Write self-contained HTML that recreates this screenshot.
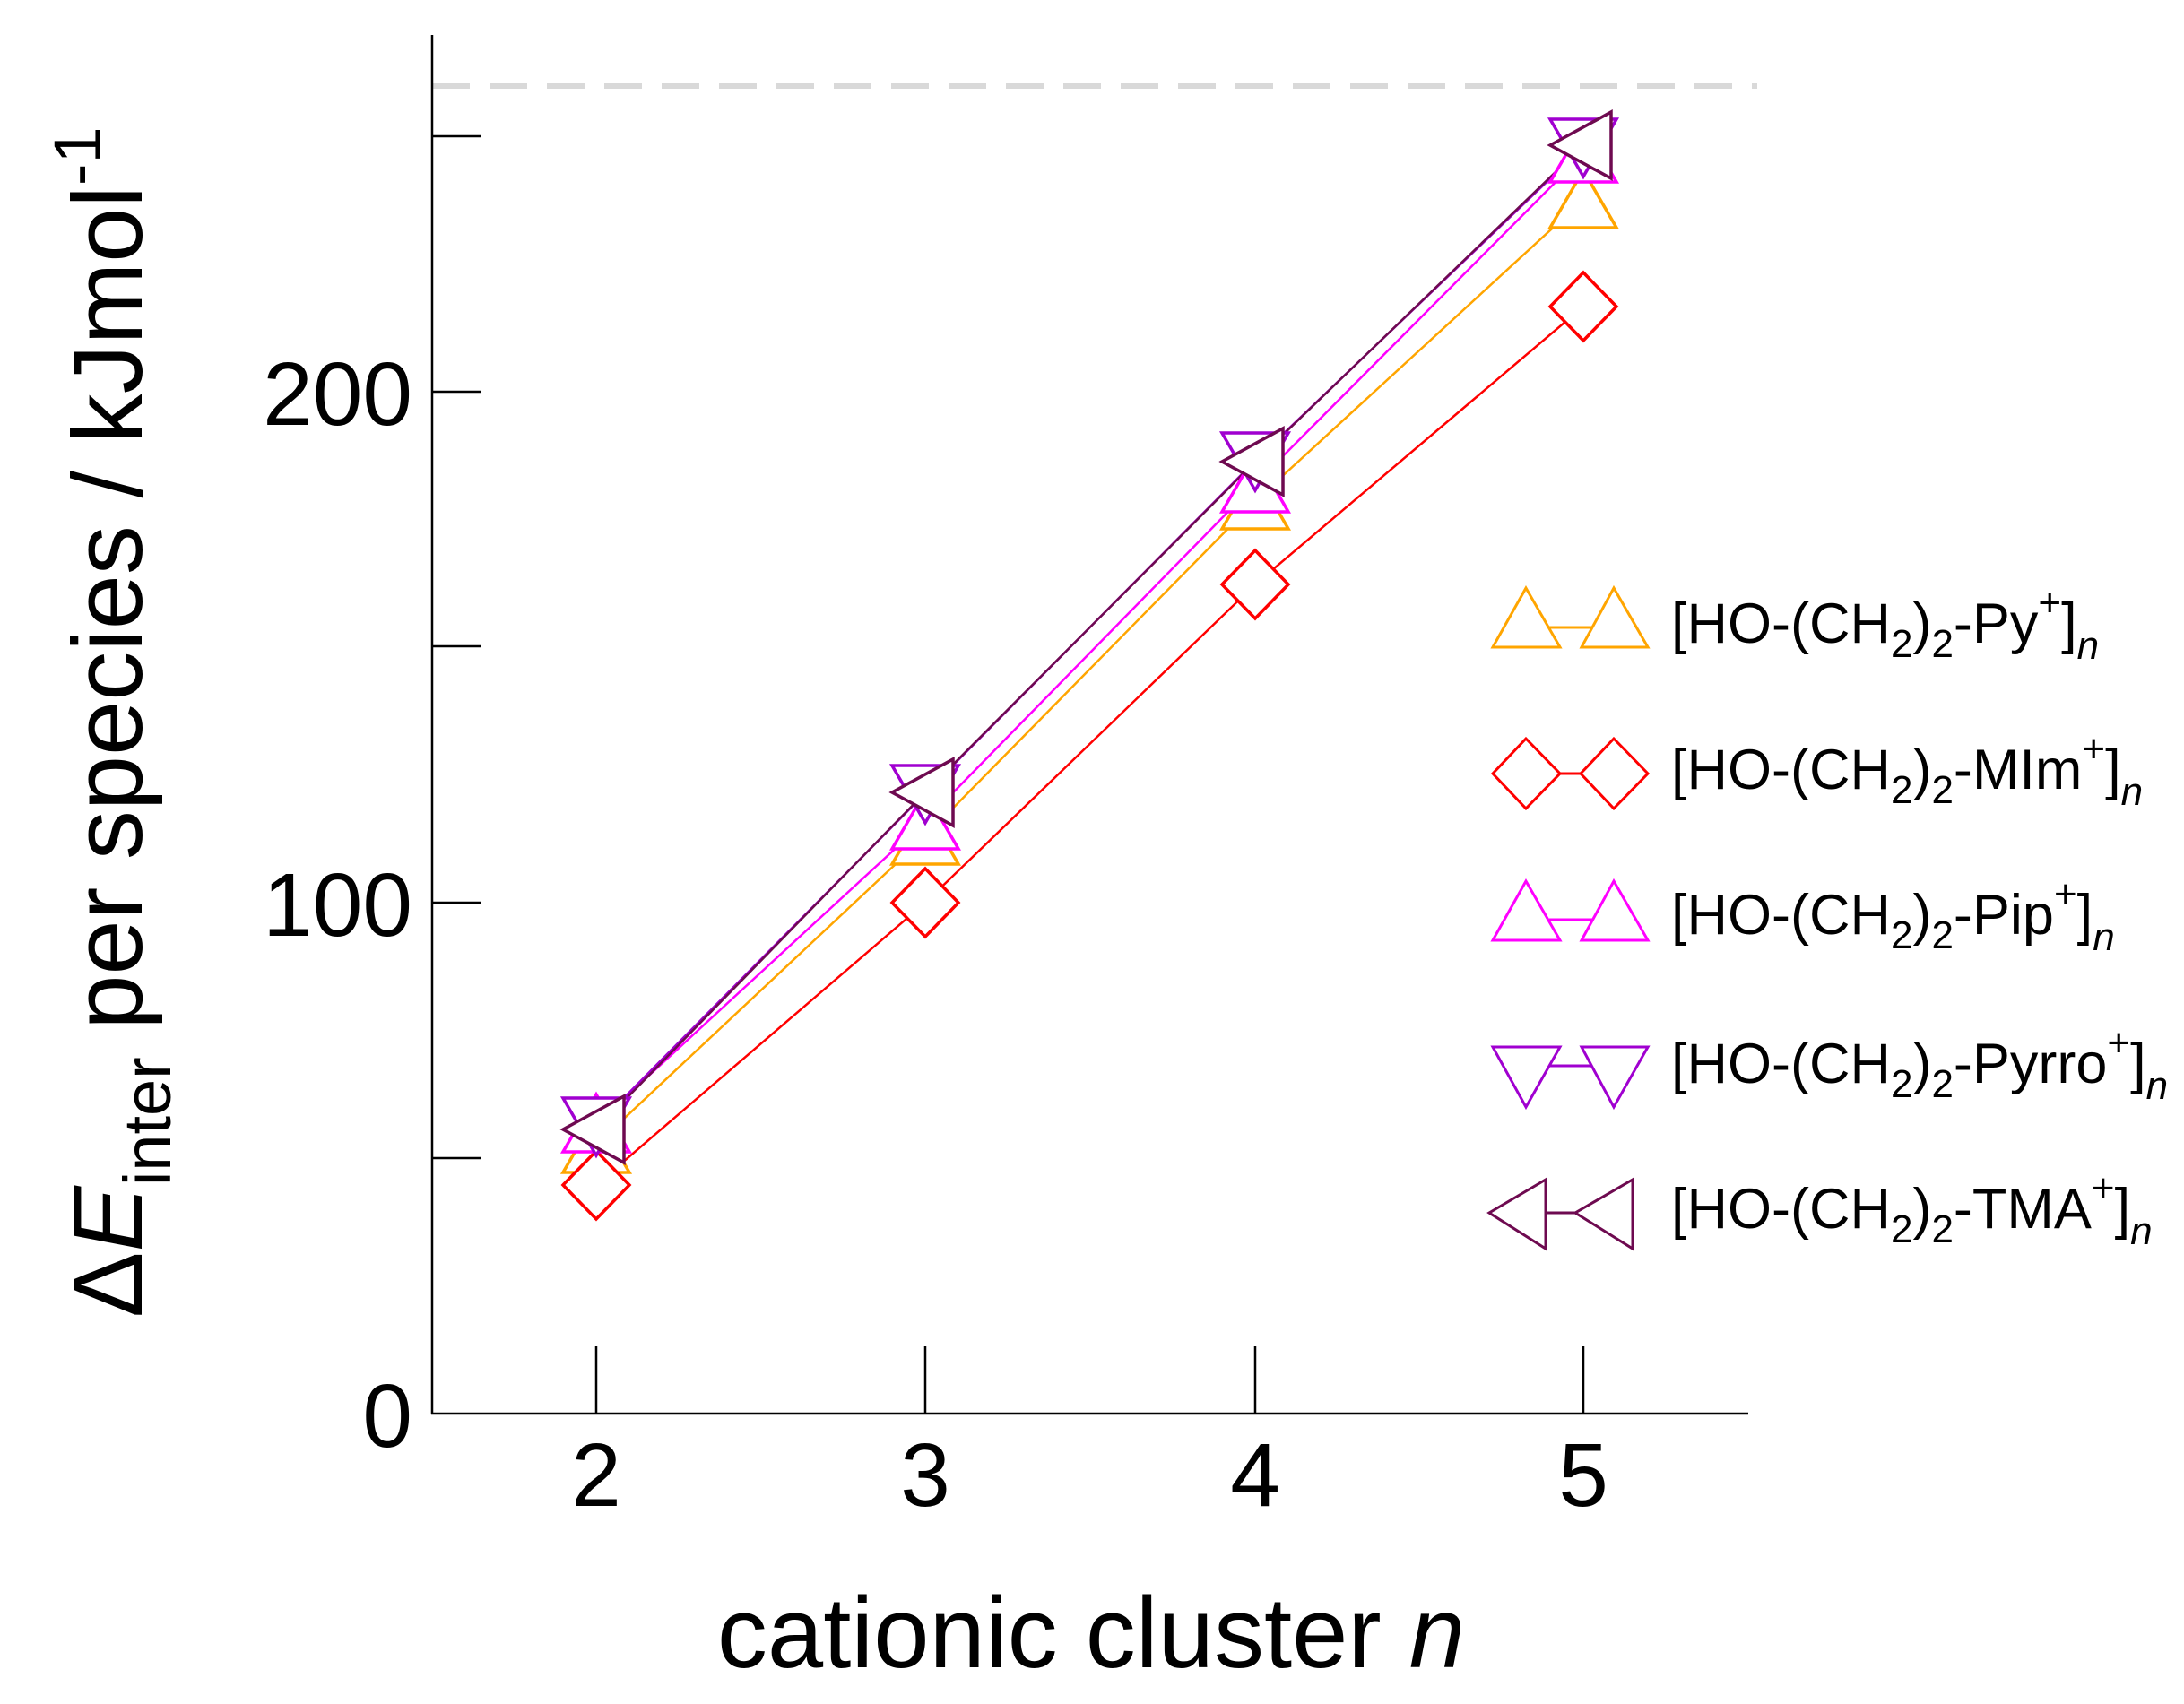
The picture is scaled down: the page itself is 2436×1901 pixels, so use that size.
<!DOCTYPE html>
<html><head><meta charset="utf-8"><style>
html,body{margin:0;padding:0;background:#fff;}
svg{display:block;}
text{font-family:"Liberation Sans",sans-serif;fill:#000;}
</style></head><body>
<svg width="2436" height="1901" viewBox="0 0 2436 1901" xmlns="http://www.w3.org/2000/svg">
<defs>
<g id="tu"><polygon points="0,-33 -37,31 37,31" stroke-width="3.5" fill="#fff"/></g>
<g id="td"><polygon points="0,33 -37,-31 37,-31" stroke-width="3.5" fill="#fff"/></g>
<g id="dm"><polygon points="0,-38 37,0 0,38 -37,0" stroke-width="3.5" fill="#fff"/></g>
<g id="tl"><polygon points="-37,0 31,-37 31,37" stroke-width="3.5" fill="#fff"/></g>
</defs>
<line x1="482" y1="96" x2="1960" y2="96" stroke="#d9d9d9" stroke-width="6" stroke-dasharray="42,22"/>
<g stroke="#000" stroke-width="2.5" fill="none">
<line x1="482" y1="39" x2="482" y2="1578"/>
<line x1="481" y1="1577" x2="1950" y2="1577"/>
<line x1="482" y1="1292" x2="536" y2="1292"/>
<line x1="482" y1="1007" x2="536" y2="1007"/>
<line x1="482" y1="721" x2="536" y2="721"/>
<line x1="482" y1="437" x2="536" y2="437"/>
<line x1="482" y1="152" x2="536" y2="152"/>
<line x1="665" y1="1577" x2="665" y2="1502"/>
<line x1="1032" y1="1577" x2="1032" y2="1502"/>
<line x1="1400" y1="1577" x2="1400" y2="1502"/>
<line x1="1766" y1="1577" x2="1766" y2="1502"/>
</g>
<g font-size="100" text-anchor="end">
<text x="460" y="1614">0</text>
<text x="460" y="1044">100</text>
<text x="460" y="474">200</text>
</g>
<g font-size="100" text-anchor="middle">
<text x="665" y="1680">2</text>
<text x="1032" y="1680">3</text>
<text x="1400" y="1680">4</text>
<text x="1766" y="1680">5</text>
</g>
<text x="1217" y="1860" font-size="112" text-anchor="middle">cationic cluster <tspan font-style="italic">n</tspan></text>
<text transform="translate(158,1470) rotate(-90)" font-size="110">Δ<tspan font-style="italic">E</tspan><tspan font-size="74" dy="32">inter</tspan><tspan dy="-32"> per species / kJmol</tspan><tspan font-size="74" dy="-46">-1</tspan></text>

<g fill="none" stroke-width="2.5">
<polyline stroke="#FFA500" points="665,1277 1032,933 1400,559 1766,223"/>
<polyline stroke="#FF0000" points="665,1322 1032,1007 1400,652 1766,342"/>
<polyline stroke="#FF00FF" points="665,1254 1032,916 1400,540 1766,172"/>
<polyline stroke="#A000D0" points="665,1256 1032,885 1400,514 1766,164"/>
<polyline stroke="#6E0A50" points="665,1260 1032,884 1400,515 1766,162"/>
</g>
<g stroke="#FFA500"><use href="#tu" x="665" y="1277"/><use href="#tu" x="1032" y="933"/><use href="#tu" x="1400" y="559"/><use href="#tu" x="1766" y="223"/></g>
<g stroke="#FF0000"><use href="#dm" x="665" y="1322"/><use href="#dm" x="1032" y="1007"/><use href="#dm" x="1400" y="652"/><use href="#dm" x="1766" y="342"/></g>
<g stroke="#FF00FF"><use href="#tu" x="665" y="1254"/><use href="#tu" x="1032" y="916"/><use href="#tu" x="1400" y="540"/><use href="#tu" x="1766" y="172"/></g>
<g stroke="#A000D0"><use href="#td" x="665" y="1256"/><use href="#td" x="1032" y="885"/><use href="#td" x="1400" y="514"/><use href="#td" x="1766" y="164"/></g>
<g stroke="#6E0A50"><use href="#tl" x="665" y="1260"/><use href="#tl" x="1032" y="884"/><use href="#tl" x="1400" y="515"/><use href="#tl" x="1766" y="162"/></g>

<g fill="none" stroke-width="3">
<g stroke="#FFA500"><line x1="1728" y1="700" x2="1776" y2="700"/><polygon points="1702,656 1665,722 1740,722"/><polygon points="1800,656 1764,722 1838,722"/></g>
<g stroke="#FF0000"><line x1="1740" y1="863" x2="1764" y2="863"/><polygon points="1702,824 1740,863 1702,902 1665,863"/><polygon points="1800,824 1838,863 1800,902 1763,863"/></g>
<g stroke="#FF00FF"><line x1="1728" y1="1026" x2="1776" y2="1026"/><polygon points="1702,983 1665,1049 1740,1049"/><polygon points="1800,983 1764,1049 1838,1049"/></g>
<g stroke="#A000D0"><line x1="1728" y1="1189" x2="1776" y2="1189"/><polygon points="1702,1235 1665,1168 1740,1168"/><polygon points="1800,1235 1764,1168 1838,1168"/></g>
<g stroke="#6E0A50"><line x1="1724" y1="1353" x2="1757" y2="1353"/><polygon points="1661,1353 1724,1316 1724,1393"/><polygon points="1757,1353 1821,1316 1821,1393"/></g>
</g>
<g font-size="63">
<text x="1864" y="717">[HO-(CH<tspan font-size="44" dy="16">2</tspan><tspan dy="-16">)</tspan><tspan font-size="44" dy="16">2</tspan><tspan dy="-16">-Py</tspan><tspan font-size="44" dy="-30">+</tspan><tspan dy="30">]</tspan><tspan font-size="44" font-style="italic" dy="18">n</tspan></text>
<text x="1864" y="880">[HO-(CH<tspan font-size="44" dy="16">2</tspan><tspan dy="-16">)</tspan><tspan font-size="44" dy="16">2</tspan><tspan dy="-16">-MIm</tspan><tspan font-size="44" dy="-30">+</tspan><tspan dy="30">]</tspan><tspan font-size="44" font-style="italic" dy="18">n</tspan></text>
<text x="1864" y="1042">[HO-(CH<tspan font-size="44" dy="16">2</tspan><tspan dy="-16">)</tspan><tspan font-size="44" dy="16">2</tspan><tspan dy="-16">-Pip</tspan><tspan font-size="44" dy="-30">+</tspan><tspan dy="30">]</tspan><tspan font-size="44" font-style="italic" dy="18">n</tspan></text>
<text x="1864" y="1208">[HO-(CH<tspan font-size="44" dy="16">2</tspan><tspan dy="-16">)</tspan><tspan font-size="44" dy="16">2</tspan><tspan dy="-16">-Pyrro</tspan><tspan font-size="44" dy="-30">+</tspan><tspan dy="30">]</tspan><tspan font-size="44" font-style="italic" dy="18">n</tspan></text>
<text x="1864" y="1370">[HO-(CH<tspan font-size="44" dy="16">2</tspan><tspan dy="-16">)</tspan><tspan font-size="44" dy="16">2</tspan><tspan dy="-16">-TMA</tspan><tspan font-size="44" dy="-30">+</tspan><tspan dy="30">]</tspan><tspan font-size="44" font-style="italic" dy="18">n</tspan></text>
</g>
</svg>
</body></html>
